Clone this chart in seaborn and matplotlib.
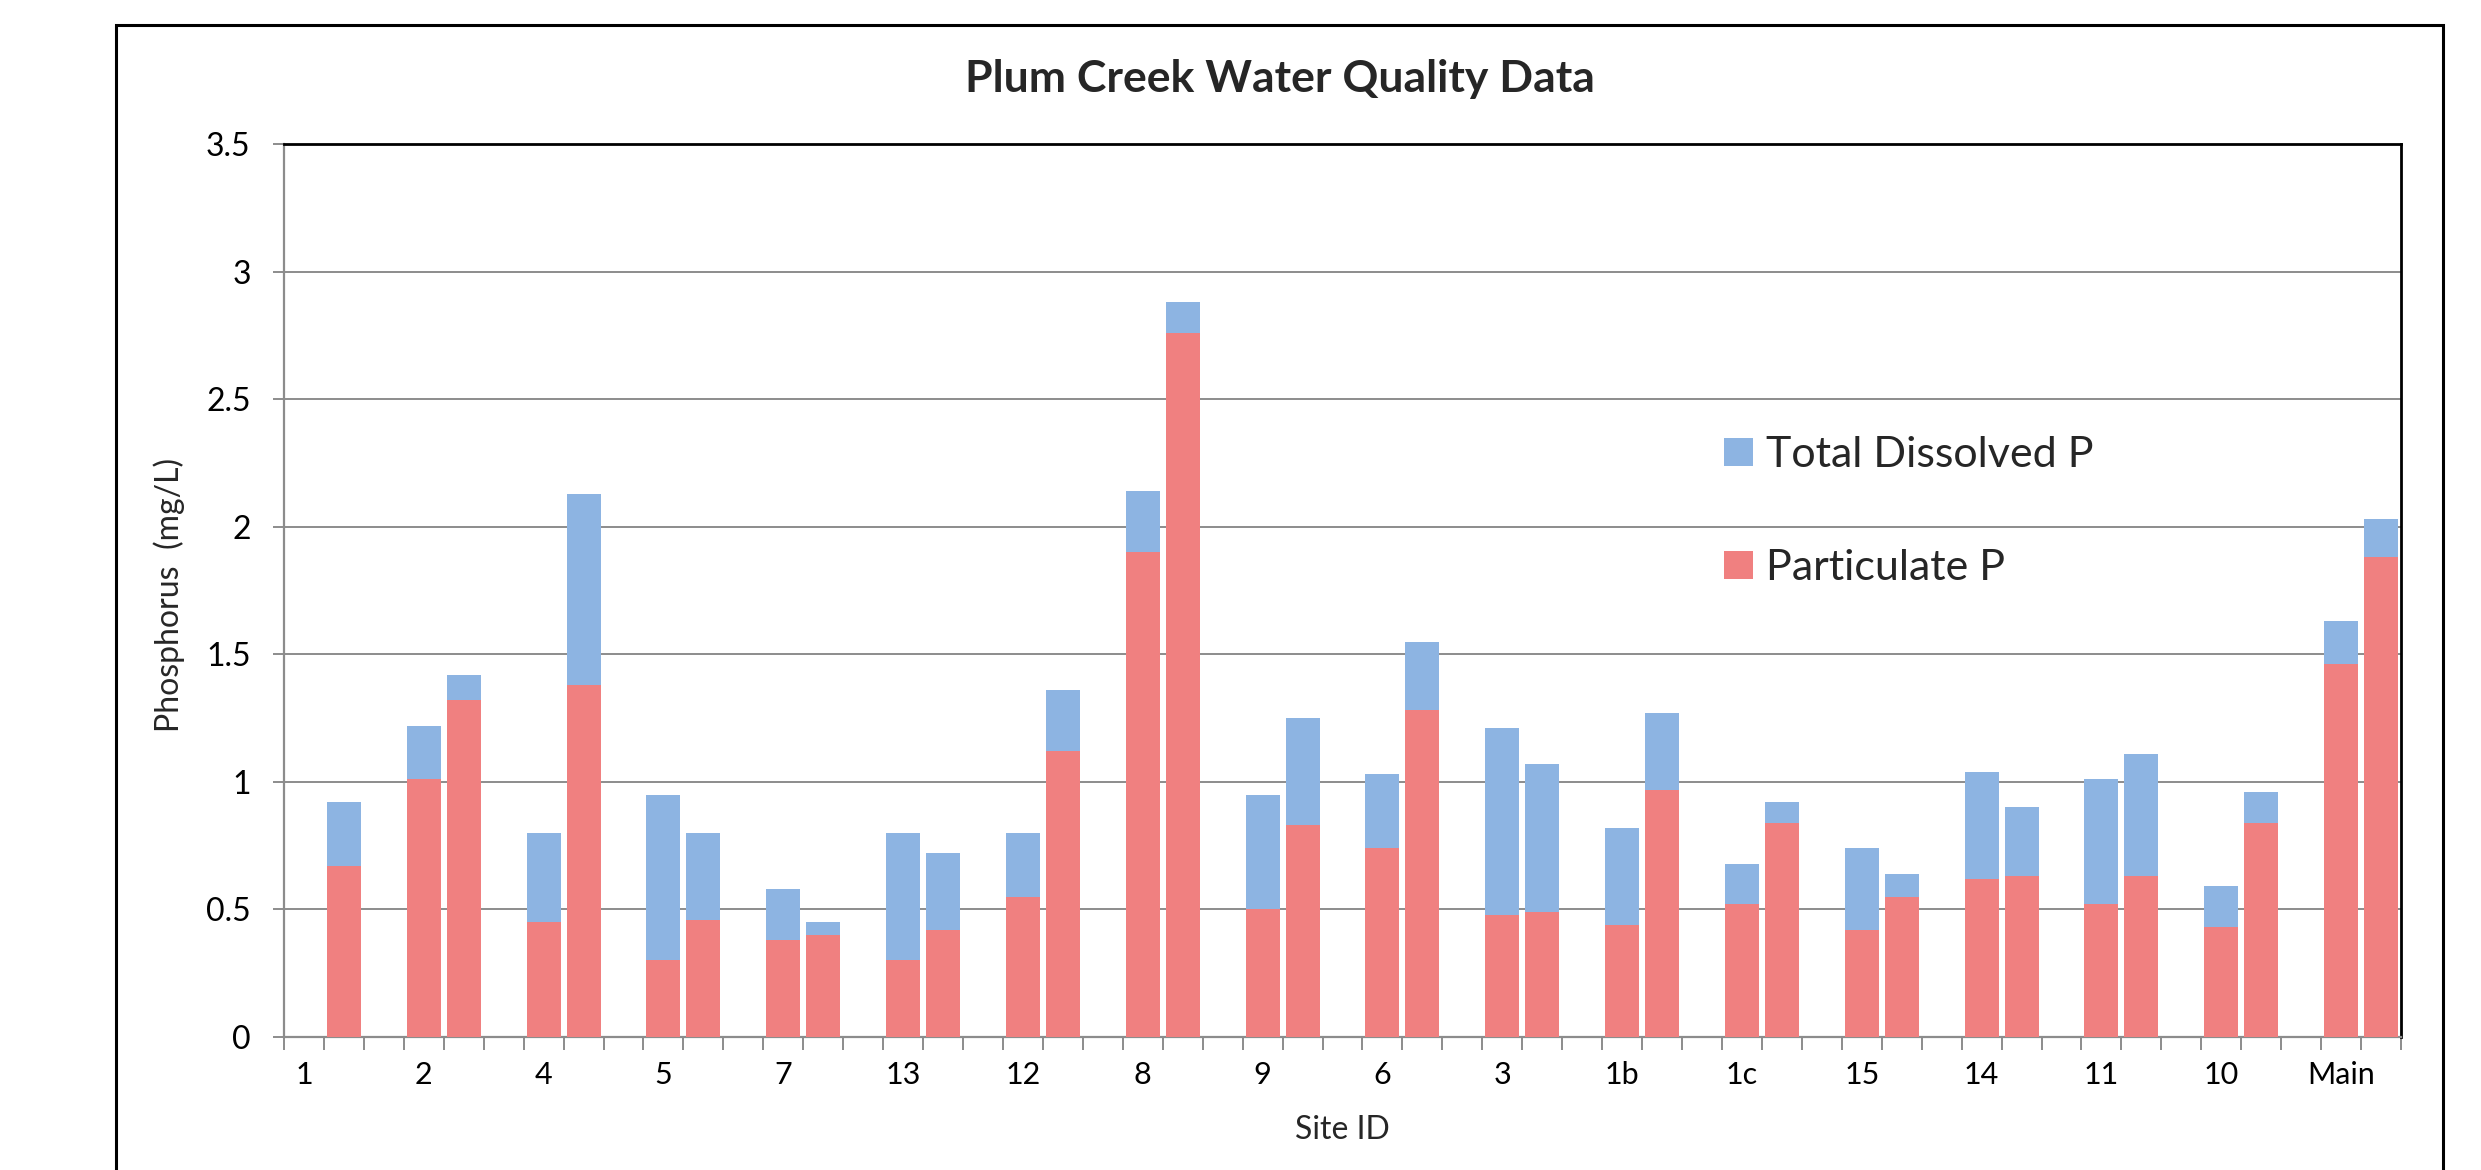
import numpy as np
import pandas as pd
import matplotlib
matplotlib.use("Agg")
import matplotlib.pyplot as plt
import seaborn as sns
from matplotlib.patches import Rectangle, Patch
from matplotlib.ticker import FixedLocator, FuncFormatter

# ---- data ----
sites = ["1", "2", "4", "5", "7", "13", "12", "8", "9", "6", "3", "1b", "1c",
         "15", "14", "11", "10", "Main"]
# two samples per site: (first, second); None = no sample
particulate_1 = [None, 1.01, 0.45, 0.30, 0.38, 0.30, 0.55, 1.90, 0.50, 0.74,
                 0.48, 0.44, 0.52, 0.42, 0.62, 0.52, 0.43, 1.46]
particulate_2 = [0.67, 1.32, 1.38, 0.46, 0.40, 0.42, 1.12, 2.76, 0.83, 1.28,
                 0.49, 0.97, 0.84, 0.55, 0.63, 0.63, 0.84, 1.88]
dissolved_1 = [None, 0.21, 0.35, 0.65, 0.20, 0.50, 0.25, 0.24, 0.45, 0.29,
               0.73, 0.38, 0.16, 0.32, 0.42, 0.49, 0.16, 0.17]
dissolved_2 = [0.25, 0.10, 0.75, 0.34, 0.05, 0.30, 0.24, 0.12, 0.42, 0.27,
               0.58, 0.30, 0.08, 0.09, 0.27, 0.48, 0.12, 0.15]
y_ticks = [0, 0.5, 1, 1.5, 2, 2.5, 3, 3.5]

BLUE = "#8DB4E2"
RED = "#F08080"

rows = []
for i, s in enumerate(sites):
    for k, (p, d) in enumerate([(particulate_1[i], dissolved_1[i]),
                                (particulate_2[i], dissolved_2[i])]):
        if p is None:
            continue
        rows.append({"site": s, "slot": i * 3 + k, "particulate": p,
                     "total": p + d})
df = pd.DataFrame(rows)

sns.set_style("white")
plt.rcParams["font.family"] = ["Lato", "DejaVu Sans"]

W, H = 2481, 1170
fig = plt.figure(figsize=(W / 100, H / 100), dpi=100)
ax = fig.add_axes([284 / W, 1 - 1037 / H, (2401 - 284) / W, (1037 - 144) / H])

sns.barplot(data=df, x="slot", y="total", native_scale=True, color=BLUE,
            width=0.85, errorbar=None, saturation=1, linewidth=0,
            ax=ax, zorder=3)
sns.barplot(data=df, x="slot", y="particulate", native_scale=True, color=RED,
            width=0.85, errorbar=None, saturation=1, linewidth=0,
            ax=ax, zorder=4)

# 3 slots per site (two samples + gap), no trailing gap after the last site
nslots = len(sites) * 3 - 1
ax.set_xlim(-0.5, nslots - 0.5)
ax.set_ylim(0, 3.5)

# gridlines
ax.yaxis.set_major_locator(FixedLocator(y_ticks))
ax.yaxis.set_major_formatter(FuncFormatter(lambda v, p: f"{v:g}"))
ax.grid(axis="y", color="#8C8C8C", linewidth=1.4, zorder=0)
ax.set_axisbelow(True)

# x ticks: labels at first slot of each site, marks at slot boundaries
ax.set_xticks([i * 3 for i in range(len(sites))])
ax.set_xticklabels(sites)
ax.xaxis.set_minor_locator(FixedLocator(np.arange(-0.5, nslots, 1.0)))
ax.tick_params(axis="x", which="major", length=0, pad=17, labelsize=22,
               colors="black")
ax.tick_params(axis="x", which="minor", length=9, width=1.4, color="#8C8C8C",
               direction="out", bottom=True)
ax.tick_params(axis="y", which="major", length=8, width=1.4, color="#8C8C8C",
               direction="out", left=True, pad=16, labelsize=23,
               labelcolor="black")

for side in ["left", "bottom"]:
    ax.spines[side].set_color("#8C8C8C")
    ax.spines[side].set_linewidth(1.6)
for side in ["top", "right"]:
    ax.spines[side].set_color("black")
    ax.spines[side].set_linewidth(2.0)
    ax.spines[side].set_visible(True)

ax.set_xlabel("Site ID", fontsize=23)
ax.set_ylabel("Phosphorus  (mg/L)", fontsize=23)
ax.xaxis.set_label_coords(0.5, -0.087)
ax.yaxis.set_label_coords(-0.047, 0.495)

# legend
handles = [Patch(facecolor=BLUE, edgecolor="none", label="Total Dissolved P"),
           Patch(facecolor=RED, edgecolor="none", label="Particulate P")]
ax.legend(handles=handles, loc="upper left", bbox_to_anchor=(0.680, 0.673),
          frameon=False, fontsize=31, borderpad=0, borderaxespad=0,
          handlelength=0.68, handleheight=0.64, handletextpad=0.3,
          labelspacing=1.75)

# title
fig.text(1280 / W, 1 - 79 / H, "Plum Creek Water Quality Data",
         ha="center", va="center", fontsize=32, fontweight="bold")

# outer chart frame
fig.patches.append(Rectangle((116 / W, -0.1), (2443 - 116) / W,
                             1 - 25 / H + 0.1, transform=fig.transFigure,
                             fill=False, edgecolor="black", linewidth=2.2))

fig.savefig("out.png", dpi=100)
